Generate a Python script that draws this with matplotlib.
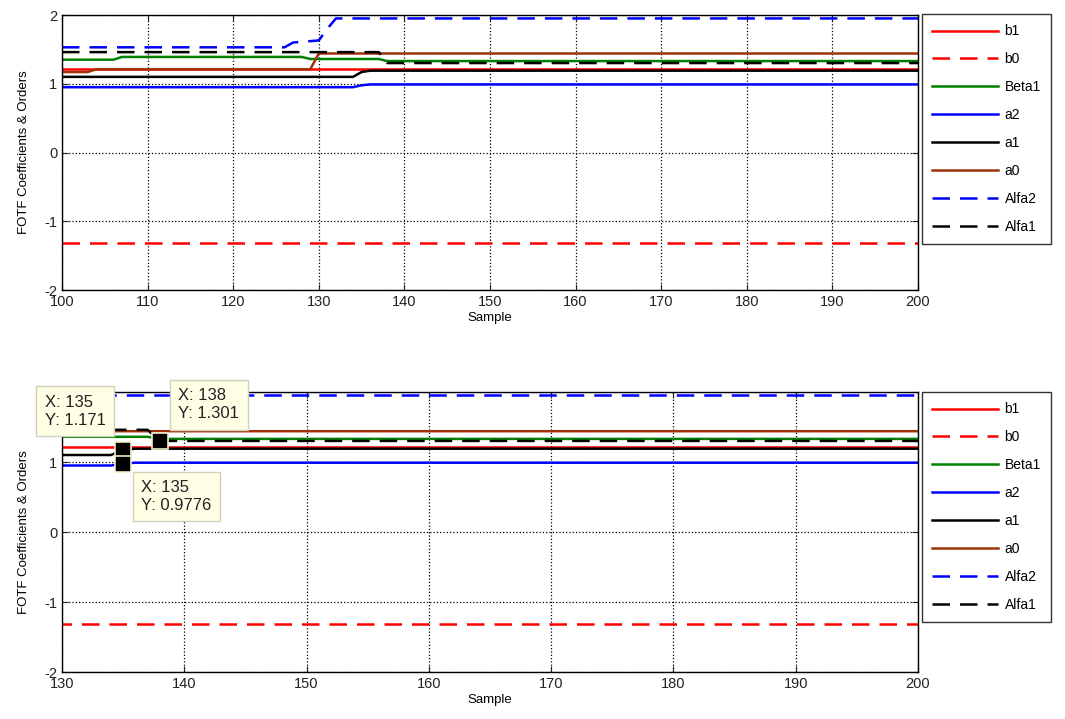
import matplotlib
matplotlib.use("Agg")

import matplotlib.pyplot as plt

plt.rcParams["font.family"] = ["Liberation Sans", "DejaVu Sans"]
plt.rcParams["axes.unicode_minus"] = False

# Step values of each FOTF parameter, read at the samples where they change
b1_x = [100, 200]
b1_y = [1.22, 1.22]

b0_x = [100, 200]
b0_y = [-1.32, -1.32]

beta1_x = [100, 106, 107, 128, 129, 137, 138, 200]
beta1_y = [1.35, 1.35, 1.39, 1.39, 1.36, 1.36, 1.33, 1.33]

a2_x = [100, 134, 135, 136, 200]
a2_y = [0.95, 0.95, 0.9776, 0.99, 0.99]

a1_x = [100, 134, 135, 136, 200]
a1_y = [1.10, 1.10, 1.171, 1.19, 1.19]

a0_x = [100, 103, 104, 129, 130, 200]
a0_y = [1.17, 1.17, 1.21, 1.21, 1.44, 1.44]

alfa2_x = [100, 126, 127, 130, 131, 132, 200]
alfa2_y = [1.53, 1.53, 1.60, 1.63, 1.80, 1.95, 1.95]

alfa1_x = [100, 137, 138, 200]
alfa1_y = [1.46, 1.46, 1.301, 1.301]

# Data tips shown on the zoomed plot: (x, y, offset of the box in pixels)
TIPS = [
    (135, 1.171, (-48, 39)),
    (138, 1.301, (49, 36)),
    (135, 0.9776, (53, -33)),
]

SERIES = [
    ("b1", b1_x, b1_y, "#ff0000", "-"),
    ("b0", b0_x, b0_y, "#ff0000", "--"),
    ("Beta1", beta1_x, beta1_y, "#008000", "-"),
    ("a2", a2_x, a2_y, "#0000ff", "-"),
    ("a1", a1_x, a1_y, "#000000", "-"),
    ("a0", a0_x, a0_y, "#a0320a", "-"),
    ("Alfa2", alfa2_x, alfa2_y, "#0000ff", "--"),
    ("Alfa1", alfa1_x, alfa1_y, "#000000", "--"),
]


def draw_panel(ax, xmin, legend_top):
    for name, xs, ys, color, style in SERIES:
        line, = ax.plot(xs, ys, color=color, linestyle=style, linewidth=1.8,
                        label=name)
        if style == "--":
            line.set_dashes((7, 4))

    ax.set_xlim(xmin, 200)
    ax.set_ylim(-2, 2)
    ax.set_xticks(range(xmin, 201, 10))
    ax.set_yticks([-2, -1, 0, 1, 2])
    ax.grid(True, color="black", linestyle=":", linewidth=0.9)
    ax.tick_params(direction="in", top=True, right=True, labelsize=10.5,
                   length=4, colors="#222222")
    for spine in ax.spines.values():
        spine.set_linewidth(1.0)
    ax.set_xlabel("Sample", fontsize=9.5, labelpad=2)
    ax.set_ylabel("FOTF Coefficients & Orders", fontsize=9.5, labelpad=10)

    leg = ax.legend(loc="upper left", bbox_to_anchor=(922 / 1065, legend_top),
                    bbox_transform=ax.figure.transFigure, fontsize=10,
                    handlelength=4.7, labelspacing=1.0, borderpad=0.75,
                    handletextpad=0.5, fancybox=False, borderaxespad=0)
    leg.get_frame().set_edgecolor("black")
    leg.get_frame().set_linewidth(1.0)


fig = plt.figure(figsize=(10.65, 7.19), dpi=100)

ax_top = fig.add_axes([62 / 1065, 1 - 290 / 719, 856 / 1065, 275 / 719])
draw_panel(ax_top, 100, 1 - 14 / 719)

ax_bot = fig.add_axes([62 / 1065, 1 - 672 / 719, 856 / 1065, 280 / 719])
draw_panel(ax_bot, 130, 1 - 392 / 719)

for x, y, offset in TIPS:
    ax_bot.plot(x, y, marker="s", markersize=11, color="black",
                markeredgecolor="#f0f0c8", markeredgewidth=1.2, zorder=5,
                clip_on=False)
    ax_bot.annotate(f"X: {x}\nY: {y:g}", xy=(x, y), xytext=offset,
                    textcoords="offset pixels", ha="center", va="center",
                    multialignment="left", fontsize=12, color="#222222",
                    linespacing=1.25, annotation_clip=False, zorder=6,
                    bbox=dict(boxstyle="square,pad=0.5", facecolor="#ffffe6",
                              edgecolor="#d0d0bc", linewidth=1.0))

fig.savefig("out.png", dpi=100)
